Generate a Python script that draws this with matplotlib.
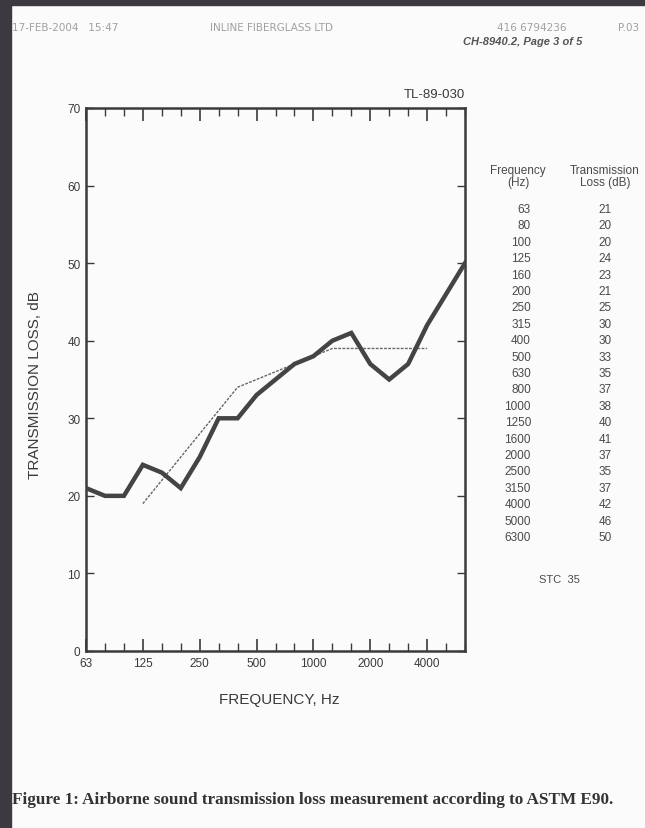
"""Scanned test report page: airborne sound transmission loss (ASTM E90), STC 35."""
import numpy as np
import matplotlib
matplotlib.use("Agg")
import matplotlib.pyplot as plt
from matplotlib.patches import Rectangle

# one-third octave bands and measured transmission loss (from the table)
FREQS = [63, 80, 100, 125, 160, 200, 250, 315, 400, 500, 630, 800,
         1000, 1250, 1600, 2000, 2500, 3150, 4000, 5000, 6300]
TL = [21, 20, 20, 24, 23, 21, 25, 30, 30, 33, 35, 37,
      38, 40, 41, 37, 35, 37, 42, 46, 50]
# STC 35 reference contour, 125 .. 4000 Hz
STC_FREQS = FREQS[3:19]
STC_CURVE = [19, 22, 25, 28, 31, 34, 35, 36, 37, 38, 39, 39, 39, 39, 39, 39]
XTICK_LABELS = ["63", "125", "250", "500", "1000", "2000", "4000"]
YTICKS = [0, 10, 20, 30, 40, 50, 60, 70]

W, H = 645, 829
INK = "#3a3a3a"
plt.rcParams["font.family"] = ["Liberation Sans", "DejaVu Sans"]

fig = plt.figure(figsize=(W / 100, H / 100), dpi=100)
fig.patch.set_facecolor("#fbfbfb")


def px(x, y):
    return x / W, 1 - y / H


# dark frame of the photographed slide
fig.add_artist(Rectangle((0, 0), 11 / W, 1, transform=fig.transFigure,
                         color="#3c3940", zorder=0))
fig.add_artist(Rectangle((0, 1 - 6 / H), 1, 6 / H, transform=fig.transFigure,
                         color="#3c3940", zorder=0))

# --- plot --------------------------------------------------------------
x0, y0 = px(86, 652)
x1, y1 = px(465, 109)
ax = fig.add_axes([x0, y0, x1 - x0, y1 - y0])
ax.set_facecolor("none")

idx = {f: i for i, f in enumerate(FREQS)}
xs = [idx[f] for f in FREQS]
ax.plot(xs, TL, color="#444444", lw=3.2, solid_joinstyle="miter", zorder=3)
ax.plot([idx[f] for f in STC_FREQS], STC_CURVE, color="#666666", lw=1.0,
        ls=(0, (2, 1)), zorder=2)

ax.set_xlim(0, len(FREQS) - 1)
ax.set_ylim(0, 70)
for s in ax.spines.values():
    s.set_linewidth(1.8)
    s.set_color(INK)

major = [idx[int(l)] for l in XTICK_LABELS]
ax.set_xticks(major)
ax.set_xticklabels(XTICK_LABELS)
ax.set_xticks([i for i in xs if i not in major], minor=True)
ax.set_yticks(YTICKS)
ax.tick_params(axis="x", which="major", direction="in", length=9, width=1.2,
               top=True, labelsize=8.5, colors=INK, pad=4)
ax.tick_params(axis="x", which="minor", direction="in", length=6, width=1.0,
               top=True, colors=INK)
ax.tick_params(axis="y", direction="in", length=6, width=1.0, right=True,
               labelsize=8.5, colors=INK, pad=4)

fig.text(*px(35, 385), "TRANSMISSION LOSS, dB", rotation=90, ha="center",
         va="center", fontsize=11, color=INK)
fig.text(*px(279, 700), "FREQUENCY, Hz", ha="center", va="center",
         fontsize=11, color=INK)
fig.text(*px(465, 95), "TL-89-030", ha="right", va="center", fontsize=9.5,
         color=INK)

# --- table ------------------------------------------------------------------
TCOL = "#4a4a4a"
fig.text(*px(518, 177), "Frequency\n(Hz)", ha="center", va="center",
         fontsize=8.5, color=TCOL, linespacing=0.95)
fig.text(*px(605, 177), "Transmission\nLoss (dB)", ha="center", va="center",
         fontsize=8.5, color=TCOL, linespacing=0.95)
for i, (f, t) in enumerate(zip(FREQS, TL)):
    y = 210 + i * 16.4
    fig.text(*px(531, y), str(f), ha="right", va="center", fontsize=8.5,
             color=TCOL)
    fig.text(*px(605, y), str(t), ha="center", va="center", fontsize=8.5,
             color=TCOL)
fig.text(*px(559, 580), "STC  35", ha="center", va="center", fontsize=8,
         color=TCOL)

# --- page header and caption ------------------------------------------------------
HCOL = "#a0a0a0"
for x, s in [(12, "17-FEB-2004   15:47"), (210, "INLINE FIBERGLASS LTD"),
             (497, "416 6794236"), (618, "P.03")]:
    fig.text(*px(x, 28), s, ha="left", va="center", fontsize=7.5,
             color=HCOL, family=["DejaVu Sans"])
fig.text(*px(463, 42), "CH-8940.2, Page 3 of 5", ha="left", va="center",
         fontsize=8, color="#555555", style="italic", weight="bold")
fig.text(*px(12, 800), "Figure 1: Airborne sound transmission loss "
         "measurement according to ASTM E90.", ha="left", va="center",
         fontsize=12.3, color="#333333", family=["Liberation Serif"],
         weight="bold")

fig.savefig("out.png", dpi=100, facecolor=fig.get_facecolor())
